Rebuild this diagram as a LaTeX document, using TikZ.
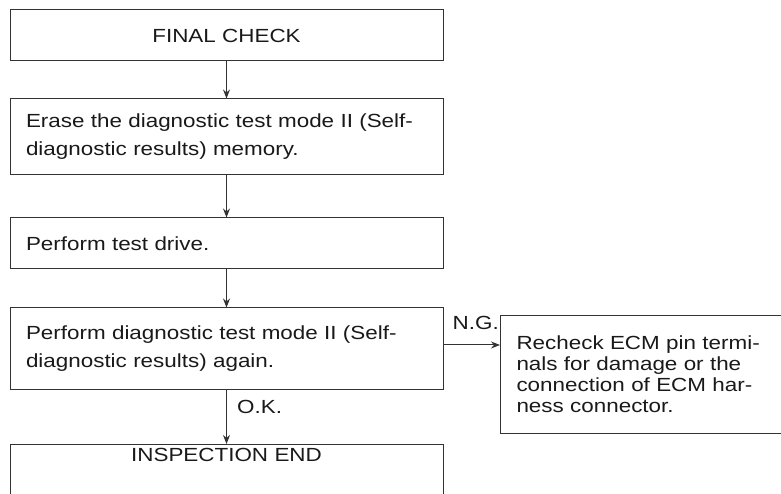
\documentclass[tikz,border=0pt]{standalone}
\usepackage{fontspec}
\setmainfont{Liberation Sans}[FakeStretch=1.18]
\usetikzlibrary{arrows.meta,positioning,calc}

\begin{document}
\begin{tikzpicture}[x=1pt,y=1pt,>={Stealth[length=9pt,width=7pt]},font=\fontsize{19}{28}\selectfont,color=black!90]
\tikzstyle{b}=[draw=black!80,line width=1pt,minimum width=433pt,inner xsep=16pt,text width=401pt]
\tikzstyle{lbl}=[inner sep=0pt,anchor=base west]
\tikzstyle{con}=[->,black!80,line width=1pt]
\useasboundingbox (0,0) rectangle (781,494); \clip (0,0) rectangle (781,494);
\node[b,align=center,minimum height=51pt] (fc) at (226.5,458.5) {FINAL CHECK};
\node[b,align=left,minimum height=76pt] (erase) at (226.5,357) {Erase the diagnostic test mode II (Self-\\ diagnostic results) memory.};
\node[b,align=left,minimum height=51pt] (drive) at (226.5,250.5) {Perform test drive.};
\node[b,align=left,minimum height=82pt] (diag) at (226.5,145) {Perform diagnostic test mode II (Self-\\ diagnostic results) again.};
\node[b,align=center,anchor=north,text depth=70pt] (end) at (226.5,50) {INSPECTION END};
\node[b,align=left,anchor=north west,minimum width=320pt,text width=288pt,minimum height=118pt,font=\fontsize{19}{21}\selectfont] (check) at (500,179) {Recheck ECM pin termi-\\ nals for damage or the\\ connection of ECM har-\\ ness connector.};
\coordinate (ng) at ([yshift=4pt]diag.east);
\draw[con] (fc) -- (erase); \draw[con] (erase) -- (drive); \draw[con] (drive) -- (diag);
\draw[con] (diag) -- (end); \draw[con] (ng) -- (ng -| check.west);
\node[lbl] (nglbl) at ([xshift=9pt,yshift=15pt]ng) {N.G.};
\node[lbl] (oklbl) at ([xshift=10.5pt,yshift=-23pt]diag.south) {O.K.};
\end{tikzpicture}
\end{document}
